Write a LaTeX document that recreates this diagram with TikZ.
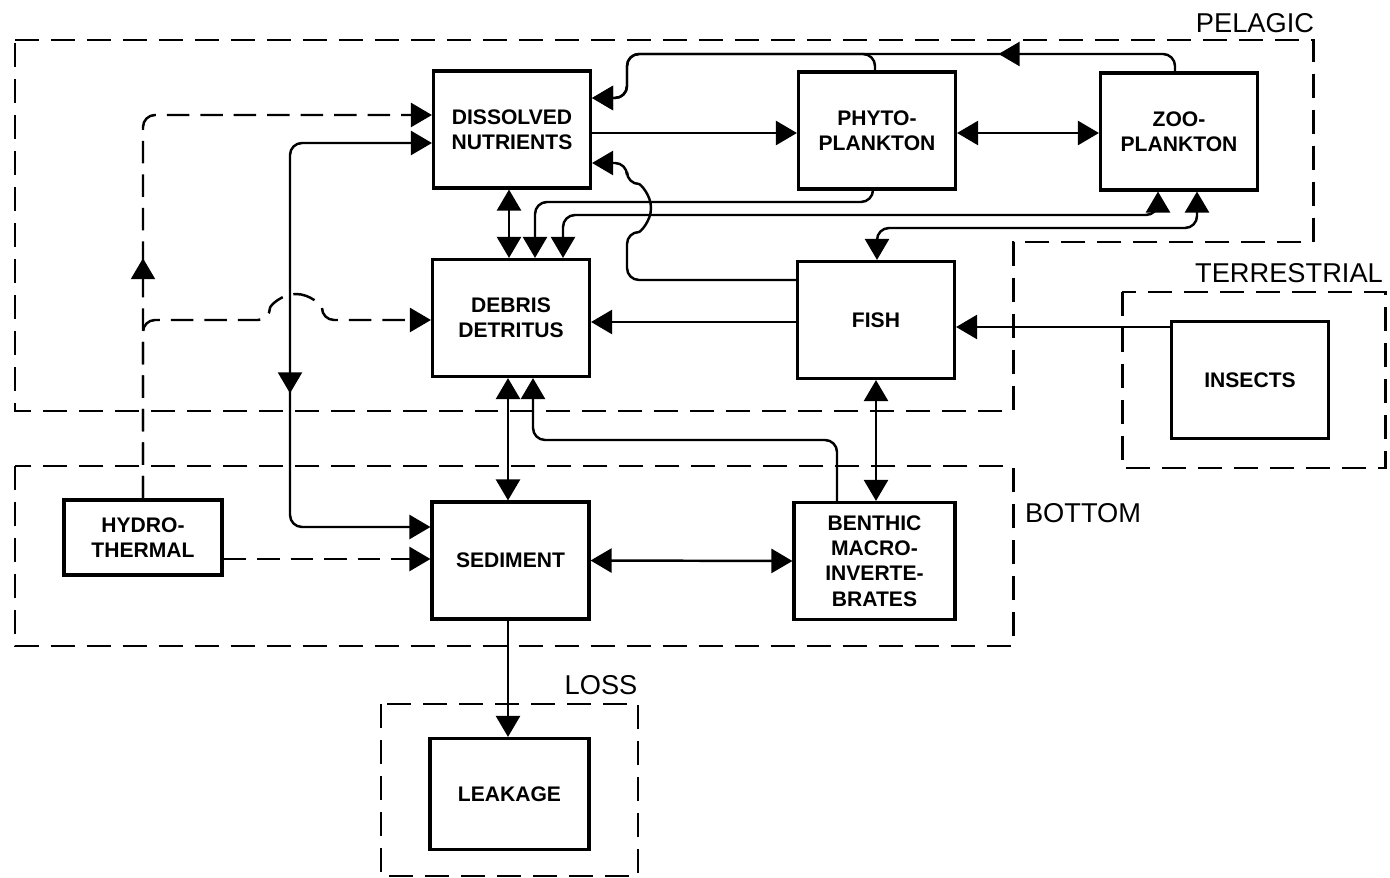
\documentclass[tikz,border=0pt]{standalone}
\usepackage{fontspec}
\setmainfont{Liberation Sans}
\usetikzlibrary{arrows.meta, decorations.markings}

\tikzset{
  box/.style={draw, line width=1.8pt, minimum width=3.14cm, minimum height=2.34cm,
    align=center, inner sep=2pt, font=\fontsize{12}{14.5}\selectfont\bfseries},
  zone/.style={line width=1.7pt, dash pattern=on 0.48cm off 0.24cm},
  zonelabel/.style={inner sep=0pt, font=\fontsize{15.5}{18}\selectfont},
  flow/.style={line width=1.4pt, rounded corners=0.24cm, ->},
  flowboth/.style={line width=1.4pt, rounded corners=0.24cm, <->},
  dashflow/.style={dash pattern=on 0.45cm off 0.22cm},
  midarrow/.style={postaction={decorate, decoration={markings,
    mark=at position #1 with {\arrow{>}}}}}
}

\begin{document}
\begin{tikzpicture}[x=0.02cm, y=-0.02cm, >={Triangle[length=0.42cm, width=0.48cm]}]
    \useasboundingbox (0,0) rectangle (1390,878);

    % Compartment zones
    \draw[zone] (15,40) -- (1313,40) -- (1313,242) -- (1013,242) -- (1013,411) -- (15,411) -- cycle;
    \draw[zone] (1122,292) rectangle (1385,468);
    \draw[zone] (15,466) rectangle (1013,646);
    \draw[zone] (381,704) rectangle (638,876);
    \node[zonelabel] (pelagic) at (1255,23) {PELAGIC};
    \node[zonelabel] (terrestrial) at (1289,273) {TERRESTRIAL};
    \node[zonelabel] (bottom) at (1083,513) {BOTTOM};
    \node[zonelabel] (loss) at (601,685) {LOSS};

    % Boxes
    \node[box] (diss) at (512,129.5) {DISSOLVED\\NUTRIENTS};
    \node[box] (phyto) at (877,130.5) {PHYTO-\\PLANKTON};
    \node[box] (zoo) at (1179,131.5) {ZOO-\\PLANKTON};
    \node[box] (debris) at (511,318) {DEBRIS\\DETRITUS};
    \node[box] (fish) at (876,320) {FISH};
    \node[box] (insects) at (1250,380) {INSECTS};
    \node[box, minimum width=3.16cm, minimum height=1.5cm] (hydro) at (143,537.5) {HYDRO-\\THERMAL};
    \node[box] (sed) at (510.5,560.5) {SEDIMENT};
    \node[box, minimum width=3.22cm] (benthic) at (874.5,561) {BENTHIC\\MACRO-\\INVERTE-\\BRATES};
    \node[box, minimum width=3.18cm, minimum height=2.22cm] (leak) at (509.5,794) {LEAKAGE};

    % Pelagic exchanges
    \draw[flow, midarrow=0.3] (1175,0 |- zoo.north) -- (1175,54) -- (627,54) -- (627,98) -- (diss.east |- 0,98);
    \draw[flow] (875,0 |- phyto.north) -- (875,54) -- (627,54) -- (627,98) -- (diss.east |- 0,98);
    \draw[flow] (diss.east |- 0,133) -- (phyto.west |- 0,133);
    \draw[flowboth] (phyto.east |- 0,133) -- (zoo.west |- 0,133);
    \draw[flowboth] (509,0 |- diss.south) -- (509,0 |- debris.north);
    \draw[flow] (873,0 |- phyto.south) -- (873,202) -- (535,202) -- (535,0 |- debris.north);
    \draw[flowboth] (563,0 |- debris.north) -- (563,215) -- (1158,215) -- (1158,0 |- zoo.south);
    \draw[flowboth] (877,0 |- fish.north) -- (877,228) -- (1197,228) -- (1197,0 |- zoo.south);
    \draw[flow] (fish.west |- 0,280) -- (627,280) -- (627,232)
        arc[start angle=-90, end angle=90, radius=0.48cm] -- (627,163) -- (diss.east |- 0,163);
    \draw[flow] (fish.west |- 0,322) -- (debris.east |- 0,322);
    \draw[flow] (insects.west |- 0,327) -- (fish.east |- 0,327);

    % Bottom exchanges
    \draw[flowboth] (508,0 |- debris.south) -- (508,0 |- sed.north);
    \draw[flow] (837,0 |- benthic.north) -- (837,440) -- (533,440) -- (533,0 |- debris.south);
    \draw[flowboth] (876,0 |- fish.south) -- (876,0 |- benthic.north);
    \draw[flowboth] (sed.east) -- (benthic.west);
    \draw[flow] (508,0 |- sed.south) -- (508,0 |- leak.north);
    \draw[flowboth, midarrow=0.59] (diss.west |- 0,143) -- (290,143) -- (290,527) -- (sed.west |- 0,527);

    % Hydrothermal inputs
    \draw[flow, dashflow, midarrow=0.36] (hydro.north) -- (143,115) -- (diss.west |- 0,115);
    \draw[flow, dashflow] (hydro.north) -- (143,320) -- (270,320)
        arc[start angle=180, end angle=0, radius=0.52cm] -- (debris.west |- 0,320);
    \draw[flow, dashflow] (hydro.east |- 0,559) -- (sed.west |- 0,559);
\end{tikzpicture}
\end{document}
